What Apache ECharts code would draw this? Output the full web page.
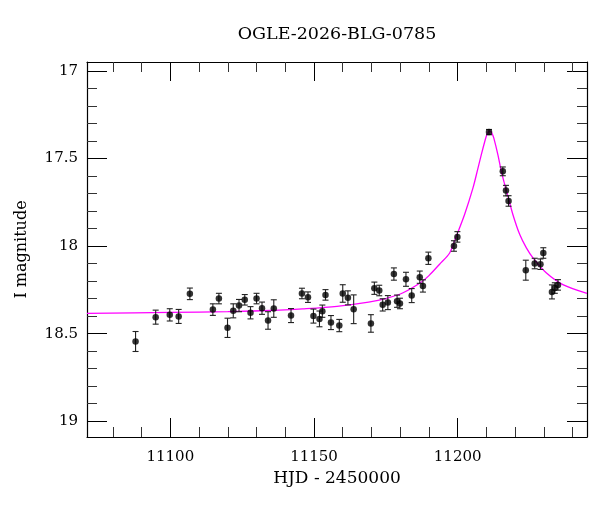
<!DOCTYPE html>
<html>
<head>
<meta charset="utf-8">
<script src="https://cdn.jsdelivr.net/npm/echarts@6/dist/echarts.min.js"></script>
<style>
html,body{margin:0;padding:0;background:#fff;}
#chart{width:600px;height:512px;}
</style>
</head>
<body>
<div id="chart"></div>
<script>
const titleText = 'OGLE-2026-BLG-0785';
const xName = 'HJD - 2450000';
const yName = 'I magnitude';

// Observations: time (HJD-2450000), I magnitude, error
const obsT = [11087.9,11094.9,11099.8,11102.9,11106.8,11114.8,11116.9,11119.9,11121.9,11123.9,
  11125.9,11127.9,11130.0,11131.9,11134.0,11136.0,11142.0,11145.8,11147.9,11149.8,
  11151.9,11152.9,11154.0,11155.9,11158.8,11160.0,11161.8,11163.8,11169.8,11171.0,
  11172.7,11173.9,11175.7,11177.8,11178.9,11179.9,11182.0,11184.0,11186.8,11187.9,
  11189.8,11198.7,11199.9,11210.9,11215.7,11216.8,11217.7,11223.7,11226.8,11228.8,
  11229.8,11232.8,11233.8,11234.9];
const obsM = [18.545,18.406,18.393,18.402,18.273,18.363,18.300,18.467,18.370,18.340,
  18.307,18.381,18.300,18.355,18.425,18.357,18.397,18.271,18.292,18.400,
  18.416,18.372,18.279,18.437,18.454,18.271,18.296,18.361,18.442,18.241,
  18.254,18.336,18.323,18.160,18.315,18.328,18.190,18.283,18.178,18.228,
  18.070,18.000,17.948,17.350,17.574,17.684,17.743,18.138,18.100,18.104,
  18.040,18.262,18.240,18.222];
const obsE = [0.057,0.040,0.035,0.040,0.033,0.033,0.030,0.055,0.040,0.035,
  0.030,0.035,0.030,0.035,0.050,0.050,0.040,0.030,0.030,0.040,
  0.045,0.035,0.030,0.040,0.035,0.050,0.040,0.082,0.050,0.035,
  0.030,0.035,0.040,0.035,0.035,0.030,0.040,0.040,0.035,0.035,
  0.035,0.030,0.030,0.015,0.025,0.030,0.030,0.057,0.030,0.030,
  0.030,0.040,0.030,0.030];

// Model curve
const modelT = [11071,11100,11120,11138,11146,11158,11169,11175,11181,11187,11190,
  11193.7,11197.2,11199.5,11202.4,11205.3,11207.0,11208.2,11209.4,11210.1,11210.6,
  11211.0,11211.5,11212.0,11212.6,11214.0,11215.2,11216.3,11217.5,11219.2,11221.6,
  11223.9,11226.2,11230.8,11236.6,11245];
const modelM = [18.384,18.379,18.375,18.366,18.359,18.344,18.320,18.300,18.267,18.210,18.169,
  18.104,18.040,17.945,17.820,17.670,17.560,17.480,17.405,17.367,17.350,
  17.344,17.347,17.360,17.386,17.480,17.576,17.645,17.717,17.820,17.935,
  18.011,18.068,18.153,18.220,18.270];

const xMin = 11071, xMax = 11245;
const yMin = 16.95, yMax = 19.09;

const FONT = 'DejaVu Serif';

const chart = echarts.init(document.getElementById('chart'), null, {renderer:'canvas'});

const pts = obsT.map((t,i)=>[t, obsM[i]]);
const errs = obsT.map((t,i)=>[t, obsM[i]-obsE[i], obsM[i]+obsE[i]]);
const model = modelT.map((t,i)=>[t, modelM[i]]);

function axisCommon(extra){
  return Object.assign({
    type:'value',
    scale:true,
    axisLine:{show:true, onZero:false, lineStyle:{color:'#000', width:1.2}},
    axisTick:{show:true, inside:true, length:19, lineStyle:{color:'#000', width:1}},
    minorTick:{show:true, splitNumber:5, length:10, lineStyle:{color:'#333', width:1}},
    splitLine:{show:false},
    minorSplitLine:{show:false}
  }, extra);
}

const option = {
  animation:false,
  backgroundColor:'#fff',
  title:{
    text:titleText,
    left:337, top:25, padding:0,
    textAlign:'center',
    textStyle:{fontFamily:FONT, fontSize:17.5, fontWeight:'normal', color:'#000'}
  },
  grid:{left:87, right:13, top:62, bottom:75, containLabel:false},
  xAxis:[
    axisCommon({
      position:'bottom', min:xMin, max:xMax, splitNumber:4,
      name:xName, nameLocation:'middle', nameGap:33,
      nameTextStyle:{fontFamily:FONT, fontSize:17, color:'#000'},
      axisLabel:{show:true, margin:13, showMinLabel:false, showMaxLabel:false,
        fontFamily:FONT, fontSize:15, color:'#000',
        formatter:function(v){ return String(Math.round(v)); }}
    }),
    axisCommon({
      position:'top', min:xMin, max:xMax, splitNumber:4,
      axisLabel:{show:false}
    })
  ],
  yAxis:[
    axisCommon({
      position:'left', inverse:true, min:yMin, max:yMax, splitNumber:4,
      axisTick:{show:true, inside:true, length:20, lineStyle:{color:'#000', width:1}},
      name:yName, nameLocation:'middle', nameGap:57, nameRotate:90,
      nameTextStyle:{fontFamily:FONT, fontSize:16, color:'#000'},
      axisLabel:{show:true, margin:9, showMinLabel:false, showMaxLabel:false,
        fontFamily:FONT, fontSize:15, color:'#000'}
    }),
    axisCommon({
      position:'right', inverse:true, min:yMin, max:yMax, splitNumber:4,
      axisTick:{show:true, inside:true, length:20, lineStyle:{color:'#000', width:1}},
      axisLabel:{show:false}
    })
  ],
  series:[
    {
      type:'line', name:'model', data:model, xAxisIndex:0, yAxisIndex:0,
      smooth:0.3, showSymbol:false, symbol:'none',
      lineStyle:{color:'#ff00ff', width:1.3},
      z:2
    },
    {
      type:'custom', name:'err', data:errs, xAxisIndex:0, yAxisIndex:0,
      encode:{x:0, y:[1,2]},
      renderItem:function(params, api){
        const x = api.value(0);
        const p1 = api.coord([x, api.value(1)]);
        const p2 = api.coord([x, api.value(2)]);
        const hw = 3;
        const st = {stroke:'#222', lineWidth:1.1};
        return {type:'group', children:[
          {type:'line', shape:{x1:p1[0], y1:p1[1], x2:p2[0], y2:p2[1]}, style:st},
          {type:'line', shape:{x1:p1[0]-hw, y1:p1[1], x2:p1[0]+hw, y2:p1[1]}, style:st},
          {type:'line', shape:{x1:p2[0]-hw, y1:p2[1], x2:p2[0]+hw, y2:p2[1]}, style:st}
        ]};
      },
      z:3
    },
    {
      type:'scatter', name:'obs', data:pts, xAxisIndex:0, yAxisIndex:0,
      symbol:'circle', symbolSize:6.5,
      itemStyle:{color:'#000'},
      z:4
    }
  ]
};
chart.setOption(option);
</script>
</body>
</html>
